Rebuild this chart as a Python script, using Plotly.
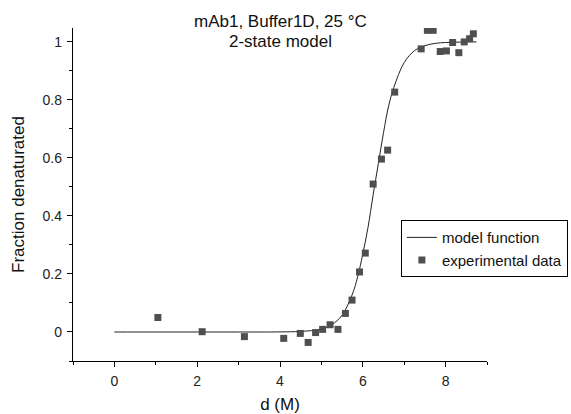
import plotly.graph_objects as go

# experimental data
exp_x = [1.05, 2.12, 3.14, 4.09, 4.49, 4.68, 4.86, 5.03, 5.21, 5.40, 5.58, 5.74,
         5.92, 6.06, 6.25, 6.45, 6.60, 6.77, 7.41, 7.56, 7.70, 7.87, 8.02,
         8.17, 8.32, 8.45, 8.58, 8.67]
exp_y = [0.050, 0.001, -0.016, -0.022, -0.005, -0.036, -0.002, 0.009, 0.025, 0.009,
         0.064, 0.110, 0.207, 0.272, 0.510, 0.596, 0.627, 0.827, 0.976, 1.040,
         1.040, 0.967, 0.969, 0.998, 0.963, 1.000, 1.011, 1.028]

# model function
model_x = [0.0, 1.0, 2.0, 3.0, 4.0, 4.5, 5.0, 5.25, 5.5, 5.75, 5.875, 6.0, 6.125,
           6.25, 6.375, 6.5, 6.625, 6.75, 7.0, 7.25, 7.5, 7.75, 8.0, 8.25, 8.5, 8.75]
model_y = [0.0, 0.0, 0.0, 0.0, 0.0003, 0.002, 0.010, 0.025, 0.058, 0.131, 0.19,
           0.269, 0.36, 0.473, 0.58, 0.687, 0.78, 0.843, 0.929, 0.970, 0.987,
           0.995, 0.998, 0.999, 1.0, 1.0]

FONT = "Arial, Liberation Sans, sans-serif"

fig = go.Figure()
fig.add_trace(go.Scatter(
    x=model_x, y=model_y, mode="lines", name="model function",
    line=dict(color="#222222", width=1, shape="spline")))
fig.add_trace(go.Scatter(
    x=exp_x, y=exp_y, mode="markers", name="experimental data",
    marker=dict(symbol="square", size=7, color="#4f4f4f")))

axis_common = dict(showline=True, linecolor="black", linewidth=1.4, mirror=False,
                   ticks="outside", ticklen=5, tickwidth=1.2, tickcolor="black",
                   showgrid=False, zeroline=False, ticklabelstandoff=2,
                   automargin=False,
                   tickfont=dict(family=FONT, size=14, color="#222"))

fig.update_xaxes(range=[-1, 9], dtick=2, tick0=0,
                 minor=dict(ticks="outside", ticklen=3, dtick=1, tick0=0, tickcolor="black"),
                 title=dict(text="d (M)", font=dict(family=FONT, size=17, color="#111"), standoff=16),
                 **axis_common)
fig.update_yaxes(range=[-0.1, 1.048], dtick=0.2, tick0=0,
                 minor=dict(ticks="outside", ticklen=3, dtick=0.1, tick0=0, tickcolor="black"),
                 title=dict(text="Fraction denaturated", font=dict(family=FONT, size=17, color="#111"), standoff=13),
                 **axis_common)

fig.add_annotation(text="mAb1, Buffer1D, 25 °C", xref="paper", yref="paper",
                   x=0.5, y=1.021, showarrow=False, yanchor="middle",
                   font=dict(family=FONT, size=17, color="#111"))
fig.add_annotation(text="2-state model", xref="paper", yref="paper",
                   x=0.5, y=0.958, showarrow=False, yanchor="middle",
                   font=dict(family=FONT, size=17, color="#111"))

fig.update_layout(
    width=571, height=414,
    margin=dict(l=73, r=84, t=28, b=53, autoexpand=False),
    plot_bgcolor="white", paper_bgcolor="white",
    legend=dict(x=0.792, y=0.423, xanchor="left", yanchor="top",
                bordercolor="black", borderwidth=1, bgcolor="rgba(255,255,255,0)",
                font=dict(family=FONT, size=15, color="#111"),
                tracegroupgap=0, itemwidth=30),
)

fig.write_html("out.html")
